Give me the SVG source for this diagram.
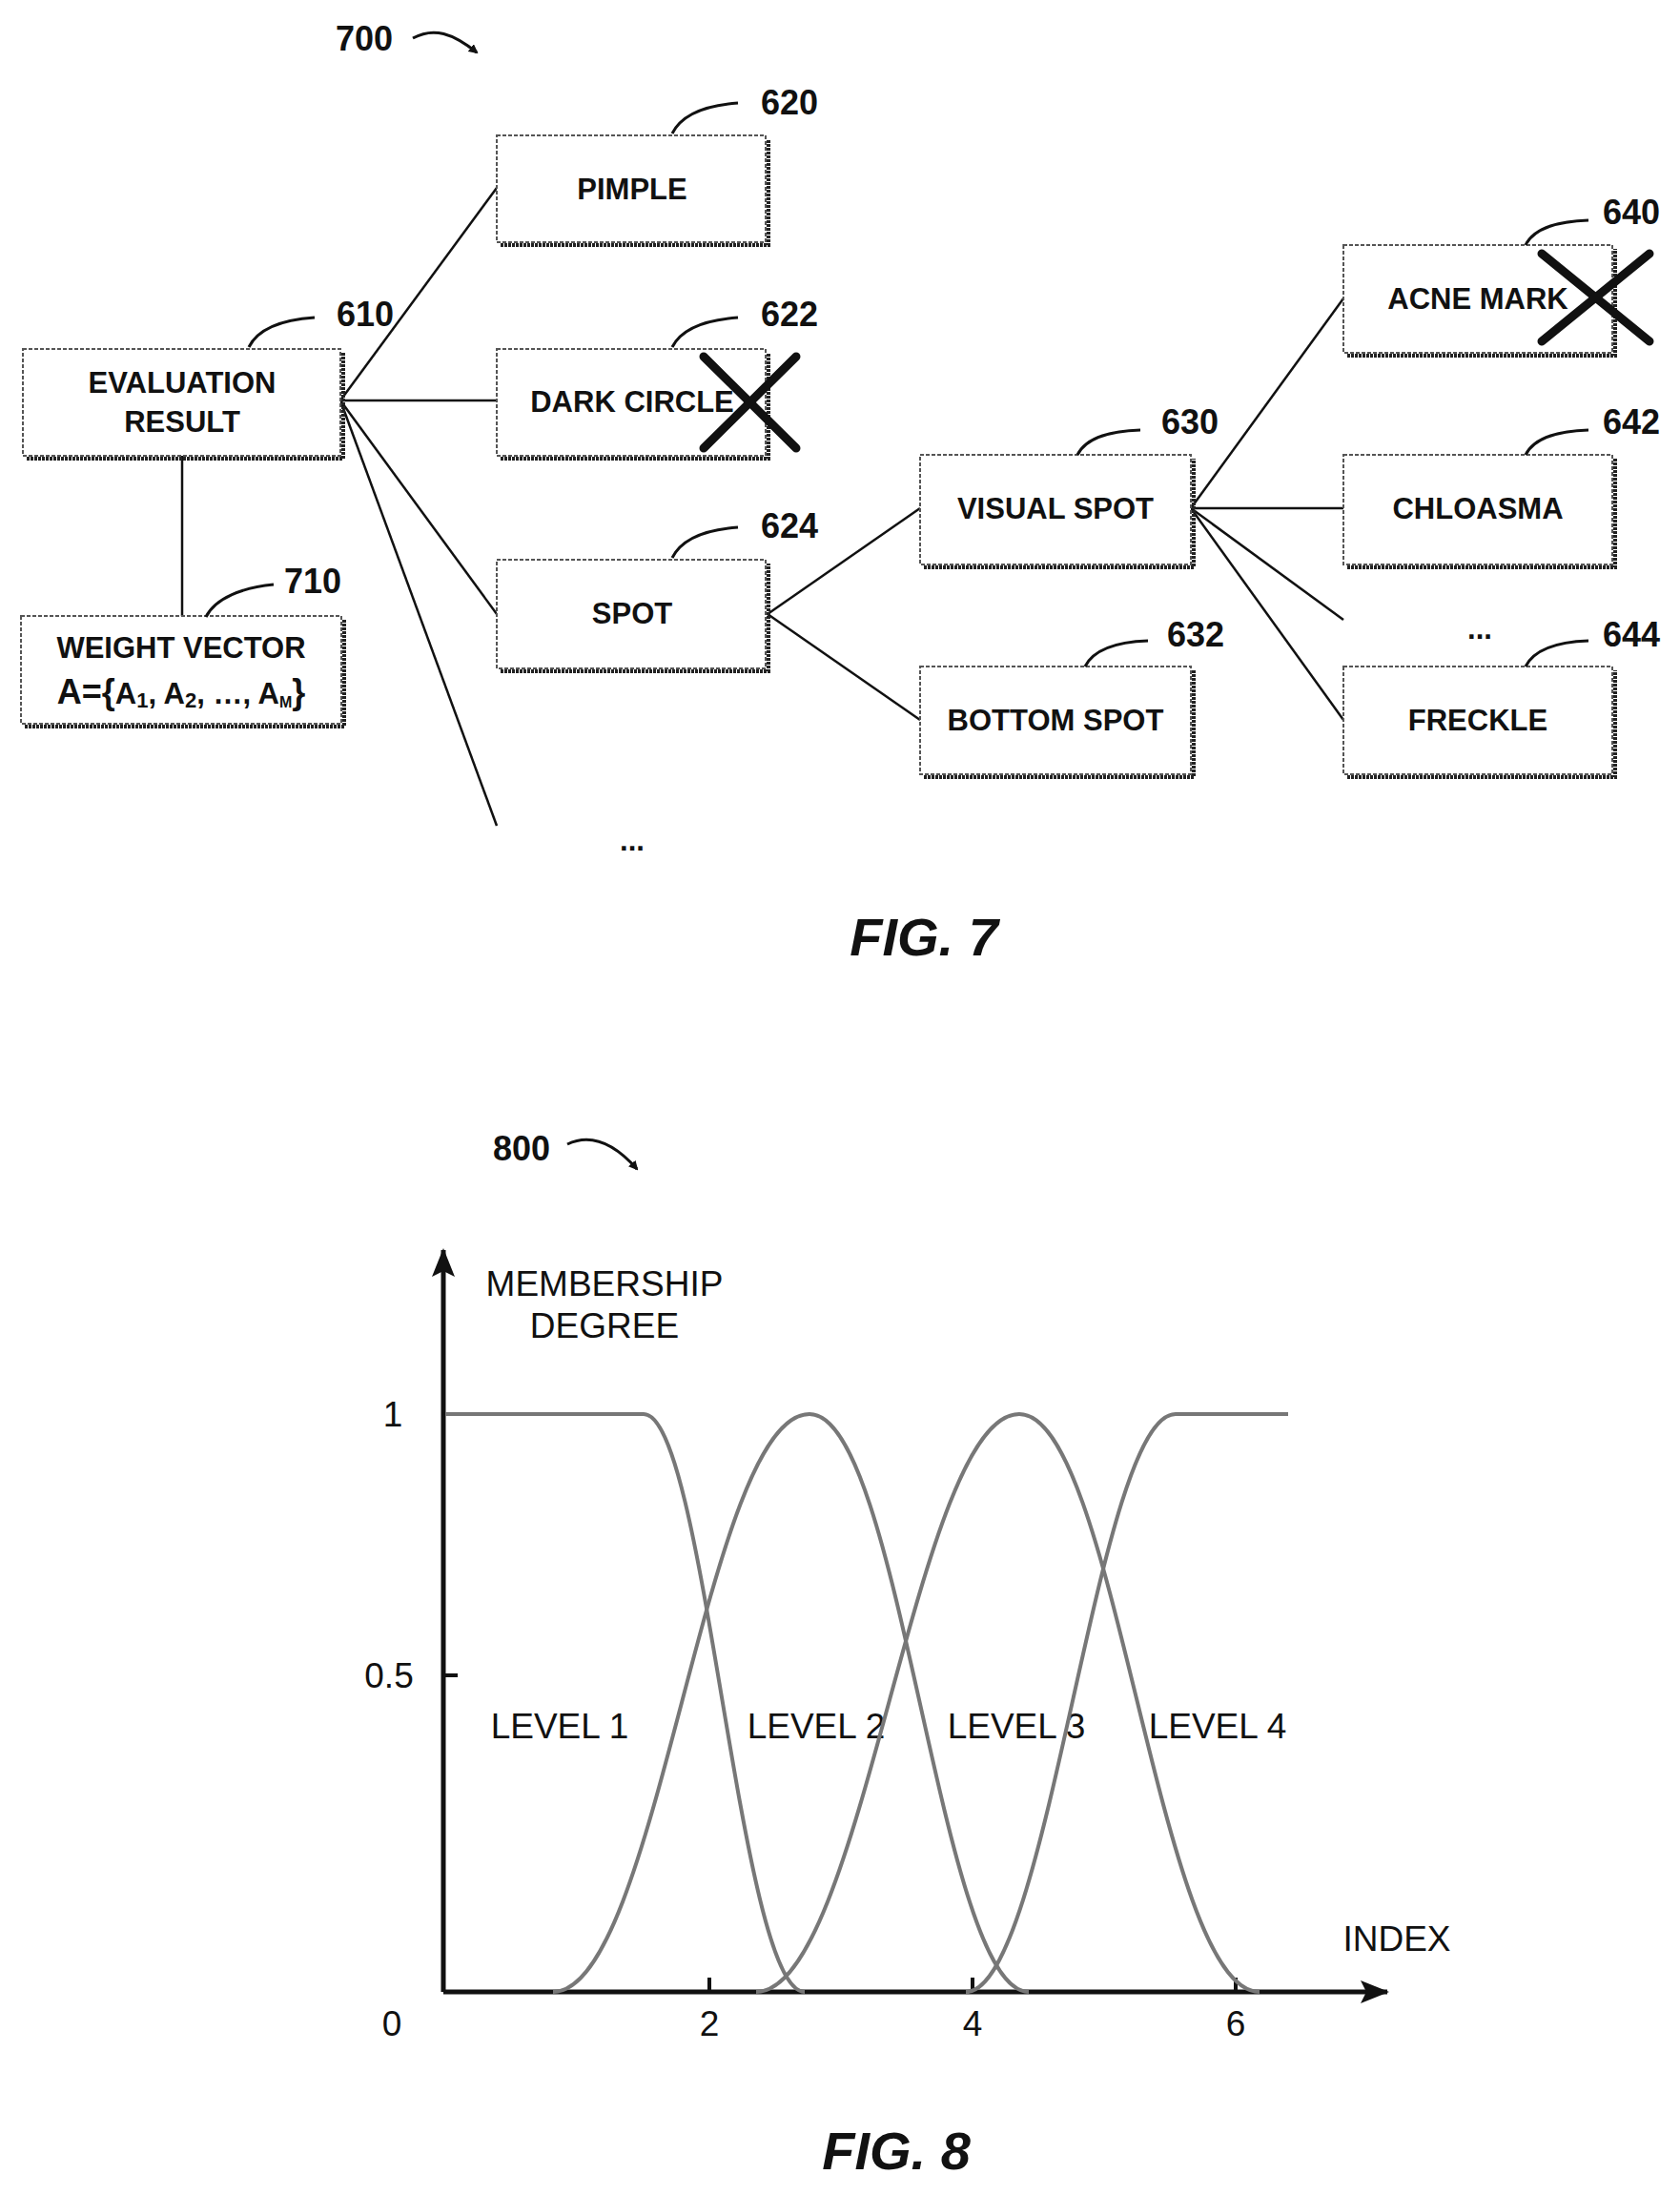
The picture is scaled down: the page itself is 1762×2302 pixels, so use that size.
<svg xmlns="http://www.w3.org/2000/svg" width="1762" height="2302" viewBox="0 0 1762 2302">
<style>
.bx{fill:#fff;stroke:#555;stroke-width:2;stroke-dasharray:4 2}
.sh{fill:none;stroke:#222;stroke-width:4;stroke-dasharray:3 1}
.t{font-family:"Liberation Sans",Arial,sans-serif;font-weight:bold;font-size:31px;text-anchor:middle;fill:#111}
.n{font-family:"Liberation Sans",Arial,sans-serif;font-weight:bold;font-size:36px;fill:#111}
.ld{fill:none;stroke:#111;stroke-width:3}
.c{fill:none;stroke:#111;stroke-width:2.5}
.r{font-family:"Liberation Sans",Arial,sans-serif;font-size:37px;fill:#111}
.cv{fill:none;stroke:#777;stroke-width:4}
.x{stroke:#111;stroke-width:9;stroke-linecap:round}
</style>
<defs>
<marker id="ah" markerWidth="10" markerHeight="10" refX="8" refY="5" orient="auto" markerUnits="userSpaceOnUse" viewBox="0 0 10 10"><path d="M0,0 L10,5 L0,10 z" fill="#111"/></marker>
<marker id="ax" markerWidth="30" markerHeight="30" refX="28" refY="15" orient="auto" markerUnits="userSpaceOnUse" viewBox="0 0 30 30"><path d="M0,3 L30,15 L0,27 L6,15 z" fill="#111"/></marker>
</defs>

<!-- FIG 7 -->
<text class="n" x="352" y="53">700</text>
<path d="M433,40 C455,28 475,35 500,55" fill="none" stroke="#111" stroke-width="3" marker-end="url(#ah)"/>

<g id="connectors">
<line class="c" x1="357" y1="420" x2="521" y2="197"/>
<line class="c" x1="357" y1="420" x2="521" y2="420"/>
<line class="c" x1="357" y1="420" x2="521" y2="644"/>
<line class="c" x1="357" y1="420" x2="521" y2="866"/>
<line class="c" x1="191" y1="478" x2="191" y2="646"/>
<line class="c" x1="805" y1="644" x2="965" y2="533"/>
<line class="c" x1="805" y1="644" x2="965" y2="755"/>
<line class="c" x1="1249" y1="533" x2="1409" y2="313"/>
<line class="c" x1="1249" y1="533" x2="1409" y2="533"/>
<line class="c" x1="1249" y1="533" x2="1409" y2="650"/>
<line class="c" x1="1249" y1="533" x2="1409" y2="755"/>
</g>

<g id="n610">
<polyline class="sh" points="28,481 360,481 360,370"/>
<rect class="bx" x="24" y="366" width="333" height="112"/>
<text class="t" x="191" y="412">EVALUATION</text>
<text class="t" x="191" y="453">RESULT</text>
<path class="ld" d="M261,364 C272,342 300,335 330,333"/>
<text class="n" x="353" y="342">610</text>
</g>

<g id="n710">
<polyline class="sh" points="26,762 361,762 361,650"/>
<rect class="bx" x="22" y="646" width="336" height="113"/>
<text class="t" x="190" y="690">WEIGHT VECTOR</text>
<text class="t" x="190" y="738"><tspan font-size="36">A={</tspan><tspan>A</tspan><tspan font-size="22" dy="4">1</tspan><tspan dy="-4">, A</tspan><tspan font-size="22" dy="4">2</tspan><tspan dy="-4">, …, A</tspan><tspan font-size="16" dy="4">M</tspan><tspan font-size="36" dy="-4">}</tspan></text>
<path class="ld" d="M216,647 C226,627 255,616 287,613"/>
<text class="n" x="298" y="622">710</text>
</g>

<g id="n620">
<polyline class="sh" points="525,257 806,257 806,146"/>
<rect class="bx" x="521" y="142" width="282" height="112"/>
<text class="t" x="663" y="209">PIMPLE</text>
<path class="ld" d="M705,140 C716,118 745,110 774,108"/>
<text class="n" x="798" y="120">620</text>
</g>

<g id="n622">
<polyline class="sh" points="525,481 806,481 806,370"/>
<rect class="bx" x="521" y="366" width="282" height="112"/>
<text class="t" x="663" y="432">DARK CIRCLE</text>
<line class="x" x1="738" y1="374" x2="835" y2="470"/>
<line class="x" x1="835" y1="374" x2="738" y2="470"/>
<path class="ld" d="M705,364 C716,342 745,335 774,333"/>
<text class="n" x="798" y="342">622</text>
</g>

<g id="n624">
<polyline class="sh" points="525,704 806,704 806,591"/>
<rect class="bx" x="521" y="587" width="282" height="114"/>
<text class="t" x="663" y="654">SPOT</text>
<path class="ld" d="M705,585 C716,563 745,555 774,553"/>
<text class="n" x="798" y="564">624</text>
</g>

<text class="t" x="663" y="892" font-size="42">...</text>

<g id="n630">
<polyline class="sh" points="969,595 1252,595 1252,481"/>
<rect class="bx" x="965" y="477" width="284" height="115"/>
<text class="t" x="1107" y="544">VISUAL SPOT</text>
<path class="ld" d="M1130,477 C1140,457 1168,452 1196,451"/>
<text class="n" x="1218" y="455">630</text>
</g>

<g id="n632">
<polyline class="sh" points="969,815 1252,815 1252,703"/>
<rect class="bx" x="965" y="699" width="284" height="113"/>
<text class="t" x="1107" y="766">BOTTOM SPOT</text>
<path class="ld" d="M1138,699 C1148,679 1176,673 1204,672"/>
<text class="n" x="1224" y="678">632</text>
</g>

<g id="n640">
<polyline class="sh" points="1413,373 1694,373 1694,261"/>
<rect class="bx" x="1409" y="257" width="282" height="113"/>
<text class="t" x="1550" y="324">ACNE MARK</text>
<line class="x" x1="1617" y1="266" x2="1730" y2="358"/>
<line class="x" x1="1730" y1="266" x2="1617" y2="358"/>
<path class="ld" d="M1600,257 C1610,237 1638,232 1666,231"/>
<text class="n" x="1681" y="235">640</text>
</g>

<g id="n642">
<polyline class="sh" points="1413,595 1694,595 1694,481"/>
<rect class="bx" x="1409" y="477" width="282" height="115"/>
<text class="t" x="1550" y="544">CHLOASMA</text>
<path class="ld" d="M1600,477 C1610,457 1638,452 1666,451"/>
<text class="n" x="1681" y="455">642</text>
</g>

<text class="t" x="1552" y="670" font-size="42">...</text>

<g id="n644">
<polyline class="sh" points="1413,815 1694,815 1694,703"/>
<rect class="bx" x="1409" y="699" width="282" height="113"/>
<text class="t" x="1550" y="766">FRECKLE</text>
<path class="ld" d="M1600,699 C1610,679 1638,673 1666,672"/>
<text class="n" x="1681" y="678">644</text>
</g>

<text x="969" y="1002" font-family="Liberation Sans,Arial,sans-serif" font-weight="bold" font-style="italic" font-size="56" text-anchor="middle" fill="#111">FIG. 7</text>

<!-- FIG 8 -->
<text class="n" x="517" y="1217">800</text>
<path d="M595,1200 C620,1188 645,1200 668,1226" fill="none" stroke="#111" stroke-width="3" marker-end="url(#ah)"/>

<line x1="465" y1="2089" x2="465" y2="1311" stroke="#111" stroke-width="5" marker-end="url(#ax)"/>
<line x1="465" y1="2089" x2="1455" y2="2089" stroke="#111" stroke-width="5" marker-end="url(#ax)"/>
<line x1="465" y1="1757" x2="480" y2="1757" stroke="#111" stroke-width="4"/>
<line x1="744" y1="2089" x2="744" y2="2074" stroke="#111" stroke-width="4"/>
<line x1="1020" y1="2089" x2="1020" y2="2074" stroke="#111" stroke-width="4"/>
<line x1="1296" y1="2089" x2="1296" y2="2074" stroke="#111" stroke-width="4"/>

<text class="r" x="412" y="1496" text-anchor="middle">1</text>
<text class="r" x="408" y="1770" text-anchor="middle">0.5</text>
<text class="r" x="411" y="2135" text-anchor="middle">0</text>
<text class="r" x="744" y="2135" text-anchor="middle">2</text>
<text class="r" x="1020" y="2135" text-anchor="middle">4</text>
<text class="r" x="1296" y="2135" text-anchor="middle">6</text>
<text class="r" x="634" y="1359" text-anchor="middle">MEMBERSHIP</text>
<text class="r" x="634" y="1403" text-anchor="middle">DEGREE</text>
<text class="r" x="1465" y="2046" text-anchor="middle">INDEX</text>
<text class="r" x="587" y="1823" text-anchor="middle">LEVEL 1</text>
<text class="r" x="856" y="1823" text-anchor="middle">LEVEL 2</text>
<text class="r" x="1066" y="1823" text-anchor="middle">LEVEL 3</text>
<text class="r" x="1277" y="1823" text-anchor="middle">LEVEL 4</text>

<path class="cv" d="M467,1483 L675,1483 C740,1483 775,2089 844,2089"/>
<path class="cv" d="M580,2089 C690,2089 740,1483 849,1483 C945,1483 985,2089 1079,2089"/>
<path class="cv" d="M793,2089 C905,2089 960,1483 1069,1483 C1170,1483 1215,2089 1321,2089"/>
<path class="cv" d="M1013,2089 C1100,2089 1150,1483 1233,1483 L1351,1483"/>

<text x="940" y="2275" font-family="Liberation Sans,Arial,sans-serif" font-weight="bold" font-style="italic" font-size="56" text-anchor="middle" fill="#111">FIG. 8</text>
</svg>
